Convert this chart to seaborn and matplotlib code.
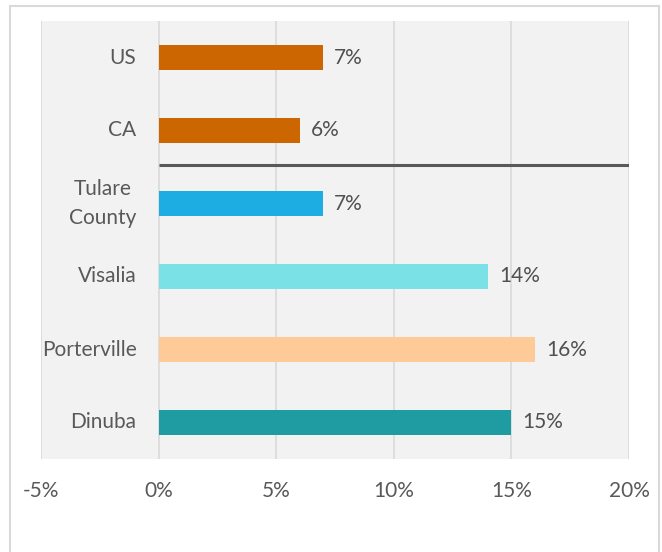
import numpy as np
import pandas as pd
import matplotlib
matplotlib.use('Agg')
import matplotlib.pyplot as plt
import seaborn as sns
from matplotlib.patches import Rectangle
from matplotlib.ticker import FuncFormatter

# DATA
places = ['US', 'CA', 'Tulare\nCounty', 'Visalia', 'Porterville', 'Dinuba']
pct = [7, 6, 7, 14, 16, 15]
bar_colors = ['#CC6600', '#CC6600', '#1EADE3', '#7AE2E6', '#FDCA98', '#1F9CA1']
x_ticks = [-5, 0, 5, 10, 15, 20]

df = pd.DataFrame({'Place': places, 'Pct': pct})

sns.set_style('white')
plt.rcParams['font.family'] = ['Lato', 'DejaVu Sans']

fig = plt.figure(figsize=(6.62, 5.52), dpi=100)
ax = fig.add_axes([41 / 662, 93 / 552, 588 / 662, 438 / 552])
ax.set_facecolor('#F2F2F2')

sns.barplot(data=df, y='Place', x='Pct', hue='Place', palette=bar_colors,
            orient='h', width=0.35, legend=False, saturation=1,
            linewidth=0, ax=ax, zorder=3)

ax.set_xlim(-5, 20)
ax.set_ylim(len(places) - 0.5, -0.5)
ax.set_xticks(x_ticks)
ax.xaxis.set_major_formatter(FuncFormatter(lambda v, p: f'{v:.0f}%'))
ax.tick_params(axis='x', length=0, pad=16, labelsize=15, labelcolor='#595959')
ax.set_yticks([])
ax.set_xlabel('')
ax.set_ylabel('')
for s in ax.spines.values():
    s.set_visible(False)
ax.grid(axis='x', color='#D9D9D9', linewidth=1.2, zorder=0)
ax.set_axisbelow(True)

# category labels next to the 0 axis
for i, name in enumerate(places):
    ax.annotate(name, xy=(0, i), xytext=(-16, 0), textcoords='offset points',
                ha='right', va='center', multialignment='center',
                fontsize=15, color='#595959', linespacing=1.6)

# value labels
for i, v in enumerate(pct):
    ax.annotate(f'{v}%', xy=(v, i), xytext=(8, 0), textcoords='offset points',
                ha='left', va='center', fontsize=15, color='#505050')

# separator between state/national and local
ax.plot([0, 20], [1.47, 1.47], color='#595959', linewidth=2.2, zorder=4,
        solid_capstyle='butt')

# chart frame
fig.patches.append(Rectangle((10 / 662, -0.05), 649 / 662, 1.05 - 6 / 552,
                             transform=fig.transFigure, fill=False,
                             edgecolor='#D9D9D9', linewidth=1.5))

fig.savefig('out.png', dpi=100)
